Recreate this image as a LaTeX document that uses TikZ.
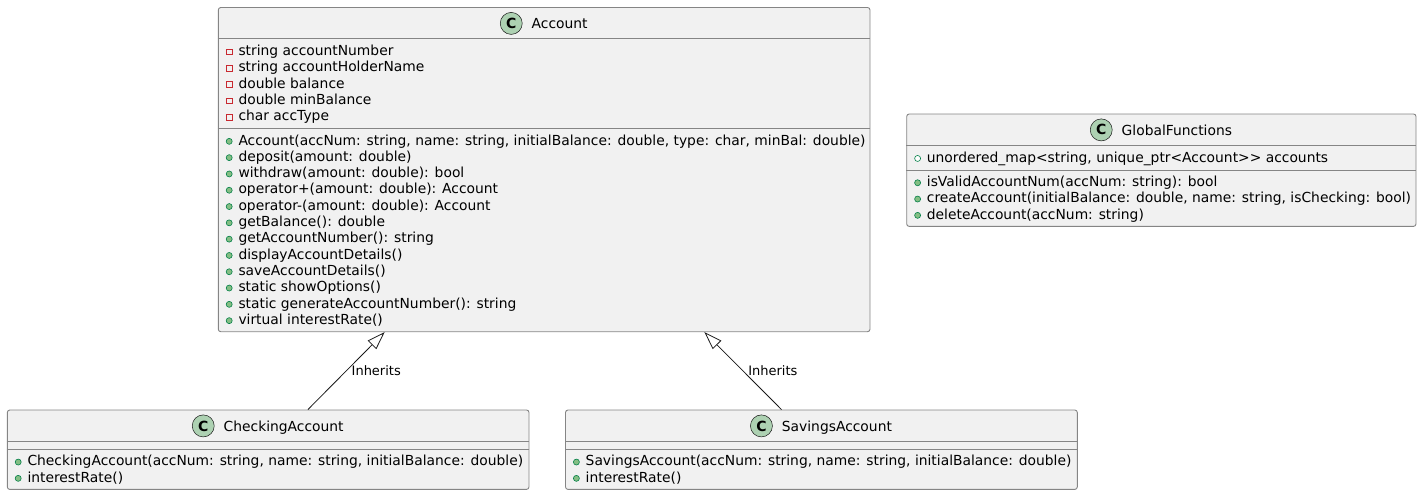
\documentclass[tikz,border=0pt]{standalone}
\usepackage{fontspec}
\setmainfont{DejaVu Sans}
\usetikzlibrary{arrows.meta,positioning}

\definecolor{umlfill}{HTML}{F1F1F1}
\definecolor{umlline}{HTML}{181818}
\definecolor{boxline}{HTML}{858585}
\definecolor{tagfill}{HTML}{ADD1B2}
\definecolor{pubfill}{HTML}{84BE84}
\definecolor{publine}{HTML}{038048}
\definecolor{privline}{HTML}{C82930}

\begin{document}
\begin{tikzpicture}[x=1pt, y=-1pt]
  \tikzstyle{classbox} = [rectangle, draw=boxline, fill=umlfill, line width=0.9pt,
    rounded corners=2.5pt, inner sep=0pt]
  \tikzstyle{sep} = [draw=boxline, line width=0.9pt]
  \tikzstyle{ctag} = [circle, draw=umlline, fill=tagfill, line width=0.5pt,
    minimum size=22pt, inner sep=0pt, label distance=9pt, font=\fontsize{14}{16}\bfseries]
  \tikzstyle{classname} = [anchor=base, inner sep=0pt, text height=10.2pt, text depth=0pt,
    font=\fontsize{13.85}{16.3}\selectfont, label={[ctag]left:C}]
  \tikzstyle{member} = [anchor=base west, inner sep=0pt, text height=10.6pt, text depth=3.3pt,
    font=\fontsize{13.85}{16.3}\selectfont]
  \tikzstyle{pubdot} = [circle, draw=publine, fill=pubfill, line width=0.6pt,
    minimum size=6pt, inner sep=0pt, label distance=5.8pt]
  \tikzstyle{pubring} = [circle, draw=publine, fill=white, line width=0.6pt,
    minimum size=6pt, inner sep=0pt, label distance=5.8pt]
  \tikzstyle{privsq} = [rectangle, draw=privline, line width=0.7pt,
    minimum size=5.6pt, inner sep=0pt, label distance=6pt]
  \tikzstyle{pubop} = [member, label={[pubdot]left:{}}]
  \tikzstyle{pubfield} = [member, label={[pubring]left:{}}]
  \tikzstyle{privfield} = [member, label={[privsq]left:{}}]
  \tikzstyle{inherit} = [draw=umlline, line width=0.8pt,
    -{Triangle[open, length=18pt, width=12pt]}]
  \tikzstyle{edgelabel} = [anchor=west, inner sep=0pt, xshift=5pt,
    font=\fontsize{13}{15}\selectfont]

  \useasboundingbox (0,0) rectangle (1423,495);

  % Place class boxes
  \node [classbox, minimum width=651.7pt, minimum height=324.2pt] (account) at (544.15,169.6) {};
  \node [classbox, minimum width=509.3pt, minimum height=112.4pt] (global) at (1161.35,170.2) {};
  \node [classbox, minimum width=521.7pt, minimum height=79.4pt] (checking) at (268.15,449.7) {};
  \node [classbox, minimum width=511.8pt, minimum height=79.4pt] (savings) at (821.4,449.7) {};

  % Compartment lines
  \draw [sep] (account.north west) ++(0,31.8) -- ++(651.7,0);
  \draw [sep] (account.north west) ++(0,121.8) -- ++(651.7,0);
  \draw [sep] (global.north west) ++(0,31.7) -- ++(509.3,0);
  \draw [sep] (global.north west) ++(0,56.7) -- ++(509.3,0);
  \draw [sep] (checking.north west) ++(0,31.7) -- ++(521.7,0);
  \draw [sep] (checking.north west) ++(0,40) -- ++(521.7,0);
  \draw [sep] (savings.north west) ++(0,31.7) -- ++(511.8,0);
  \draw [sep] (savings.north west) ++(0,40) -- ++(511.8,0);

  % Class names
  \node [classname] (accname) at (559.65,28.5) {Account};
  \node [classname] (globalname) at (1176.85,135) {GlobalFunctions};
  \node [classname] (checkname) at (283.65,431) {CheckingAccount};
  \node [classname] (savename) at (836.9,431) {SavingsAccount};

  % Account members
  \foreach \txt [count=\i from 0] in {string accountNumber, string accountHolderName,
      double balance, double minBalance, char accType}
    \node [privfield] (accattr\i) at (238.3,{55.7+16.25*\i}) {\txt};
  \foreach \txt [count=\i from 0] in {
      {Account(accNum: string, name: string, initialBalance: double, type: char, minBal: double)},
      deposit(amount: double), withdraw(amount: double): bool,
      operator+(amount: double): Account, operator-(amount: double): Account,
      getBalance(): double, getAccountNumber(): string, displayAccountDetails(),
      saveAccountDetails(), static showOptions(),
      static generateAccountNumber(): string, virtual interestRate()}
    \node [pubop] (accop\i) at (238.3,{145+16.3*\i}) {\txt};

  % GlobalFunctions members
  \node [pubfield] (globalattr) at (926.7,162.1) {unordered\_map<string, unique\_ptr<Account>{}> accounts};
  \foreach \txt [count=\i from 0] in {isValidAccountNum(accNum: string): bool,
      {createAccount(initialBalance: double, name: string, isChecking: bool)},
      deleteAccount(accNum: string)}
    \node [pubop] (globalop\i) at (926.7,{186.4+16.3*\i}) {\txt};

  % Derived class members
  \node [pubop] (checkop0) at (27.3,465.7) {CheckingAccount(accNum: string, name: string, initialBalance: double)};
  \node [pubop] (checkop1) at (27.3,482) {interestRate()};
  \node [pubop] (saveop0) at (585.5,465.7) {SavingsAccount(accNum: string, name: string, initialBalance: double)};
  \node [pubop] (saveop1) at (585.5,482) {interestRate()};

  % Draw edges
  \path [inherit] (checking) -- node [edgelabel] {Inherits} (account);
  \path [inherit] (savings) -- node [edgelabel] {Inherits} (account);

\end{tikzpicture}
\end{document}
